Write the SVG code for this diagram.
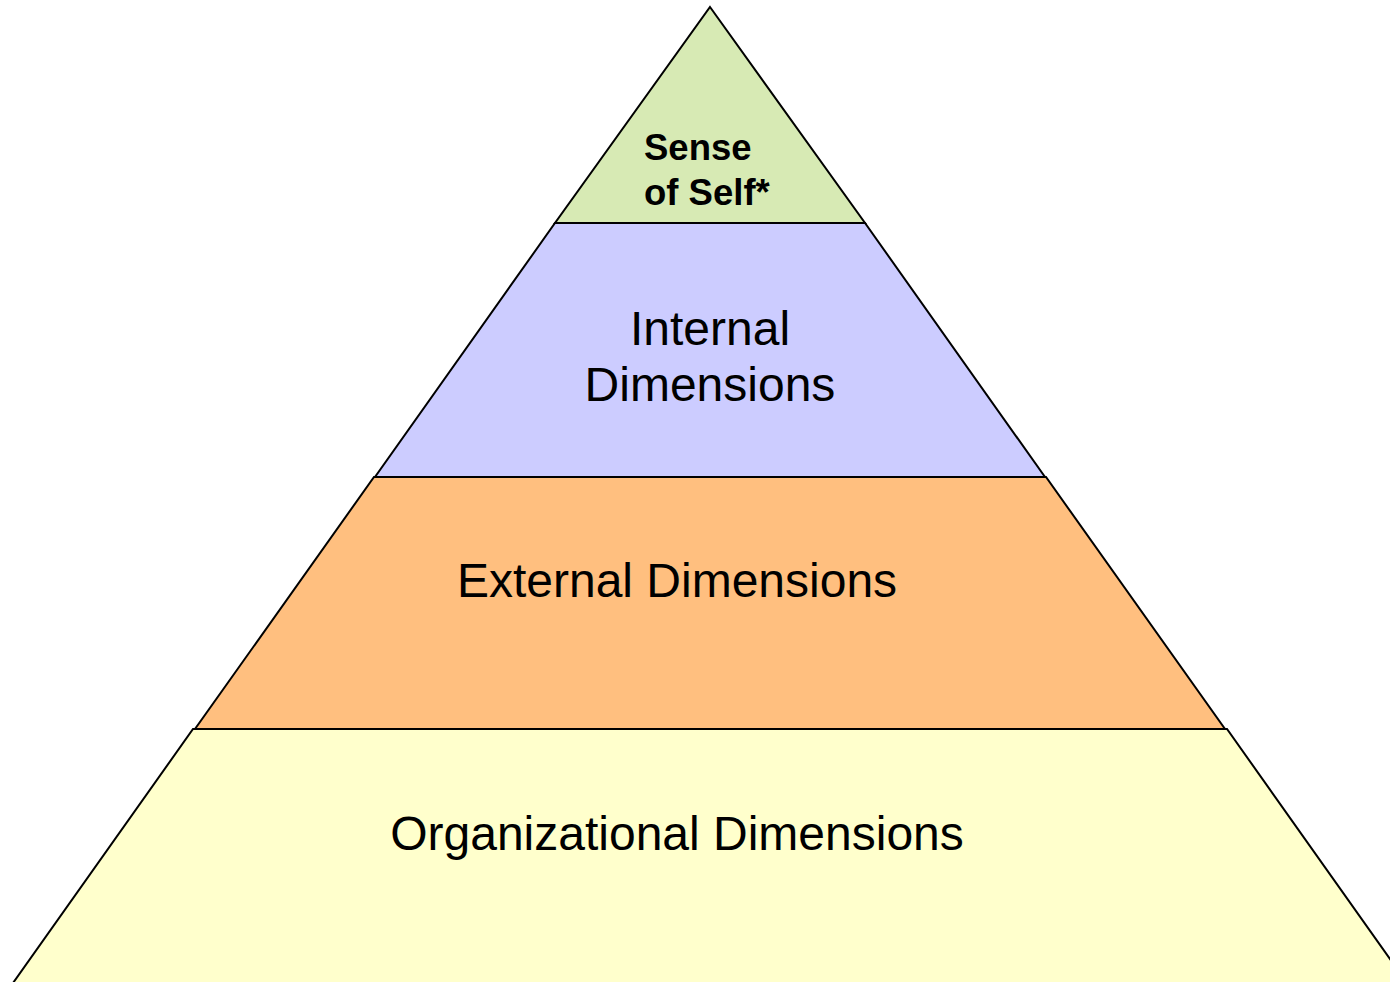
<svg xmlns="http://www.w3.org/2000/svg" width="1390" height="982" viewBox="0 0 1390 982">
<style>
.band{stroke:#000;stroke-width:2;stroke-linejoin:miter}
.t{font-family:"Liberation Sans",Arial,sans-serif;fill:#000}
.big{font-size:48px}
.bold{font-size:36.5px;font-weight:bold}
</style>
<rect width="1390" height="982" fill="#fff"/>
<g id="organizational">
<polygon class="band" fill="#FFFFCC" points="193,729 1227,729 1407,983 13,983"/>
<text class="t big" x="677" y="850" text-anchor="middle">Organizational Dimensions</text>
</g>
<g id="external">
<polygon class="band" fill="#FFBF7F" points="374,477 1046,477 1225,729 195,729"/>
<text class="t big" x="677" y="597" text-anchor="middle">External Dimensions</text>
</g>
<g id="internal">
<polygon class="band" fill="#CCCCFF" points="555,223 865,223 1045,477 375,477"/>
<text class="t big" x="710" y="345" text-anchor="middle">Internal</text>
<text class="t big" x="710" y="401" text-anchor="middle">Dimensions</text>
</g>
<g id="self">
<polygon class="band" fill="#D7EAB4" points="710,7 865,223 555,223"/>
<text class="t bold" x="644" y="160">Sense</text>
<text class="t bold" x="644" y="205">of Self*</text>
</g>
<g id="connectors"></g>
</svg>
